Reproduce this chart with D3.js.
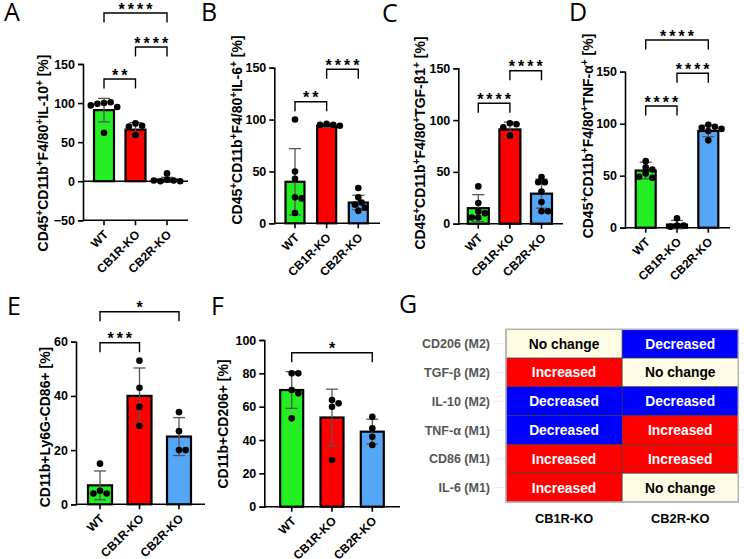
<!DOCTYPE html>
<html>
<head>
<meta charset="utf-8">
<script src="https://cdn.jsdelivr.net/npm/d3@7"></script>
<style>
body { margin: 0; background: #fff; }
svg { display: block; font-family: "Liberation Sans", Arial, sans-serif; }
</style>
</head>
<body>
<svg id="fig" width="744" height="559"></svg>
<script>
// groups and bar colours, shared by panels A-F
var cats = ['WT', 'CB1R-KO', 'CB2R-KO'];
var barColors = ['#22ee22', '#ff0000', '#55a6f6'];

// A: IL-10
var ptsA = [[100, 101, 99, 95, 97, 62], [74, 71, 70, 59], [10, 2, 1, 0, 0, 1]];
var meanA = [91, 66, 2];
var sdA = [15, 9, 3];
var sigA = [[0, 1, '**'], [1, 2, '****'], [0, 2, '****']];
var labelA = [['CD45', '+'], ['CD11b', '+'], ['F4/80', '+'], ['IL-10', '+'], [' [%]', '']];

// B: IL-6
var ptsB = [[100, 50, 43, 25, 24, 10], [96, 95, 95, 94], [34, 25, 20, 12, 15, 18]];
var meanB = [40, 94, 20];
var sdB = [32, 1.5, 7];
var sigB = [[0, 1, '**'], [1, 2, '****']];
var labelB = [['CD45', '+'], ['CD11b', '+'], ['F4/80', '+'], ['IL-6', '+'], [' [%]', '']];

// C: TGF-b1
var ptsC = [[36, 20, 12, 10, 6, 6], [97, 96, 93, 85], [45, 40, 40, 31, 21, 12, 12]];
var meanC = [15, 91, 29];
var sdC = [13, 7, 14];
var sigC = [[0, 1, '****'], [1, 2, '****']];
var labelC = [['CD45', '+'], ['CD11b', '+'], ['F4/80', '+'], ['TGF-β1', '+'], [' [%]', '']];

// D: TNF-a
var ptsD = [[64, 58, 56, 52, 48, 49], [9, 2, 2, 1], [99, 97, 96, 95, 93, 84]];
var meanD = [55, 3, 93];
var sdD = [8, 4, 5.5];
var sigD = [[0, 1, '****'], [1, 2, '****'], [0, 2, '****']];
var labelD = [['CD45', '+'], ['CD11b', '+'], ['F4/80', '+'], ['TNF-α', '+'], [' [%]', '']];

// E: CD86
var ptsE = [[15, 5, 4, 4], [53, 43, 36, 29], [34, 27, 20, 20]];
var meanE = [7, 40, 25];
var sdE = [5.3, 10.3, 7];
var sigE = [[0, 1, '***'], [0, 2, '*']];
var labelE = [['CD11b+Ly6G-CD86+  [%]', '']];

// F: CD206
var ptsF = [[80, 80, 70, 68, 53], [64, 62, 60, 28], [54, 47, 42, 37]];
var meanF = [70, 53.5, 45];
var sdF = [11, 17, 7.5];
var sigF = [[0, 2, '*']];
var labelF = [['CD11b+CD206+ [%]', '']];

// G: summary table
var rowsG = ['CD206 (M2)', 'TGF-β (M2)', 'IL-10 (M2)', 'TNF-α (M1)', 'CD86 (M1)', 'IL-6 (M1)'];
var colsG = ['CB1R-KO', 'CB2R-KO'];
var cb1rG = ['No change', 'Increased', 'Decreased', 'Decreased', 'Increased', 'Increased'];
var cb2rG = ['Decreased', 'No change', 'Decreased', 'Increased', 'Increased', 'No change'];

var panels = [
	{ key: 'A', pts: ptsA, mean: meanA, sd: sdA, sig: sigA, label: labelA, domain: [-50, 150], ticks: [-50, 0, 50, 100, 150] },
	{ key: 'B', pts: ptsB, mean: meanB, sd: sdB, sig: sigB, label: labelB, domain: [0, 150], ticks: [0, 50, 100, 150] },
	{ key: 'C', pts: ptsC, mean: meanC, sd: sdC, sig: sigC, label: labelC, domain: [0, 150], ticks: [0, 50, 100, 150] },
	{ key: 'D', pts: ptsD, mean: meanD, sd: sdD, sig: sigD, label: labelD, domain: [0, 150], ticks: [0, 50, 100, 150] },
	{ key: 'E', pts: ptsE, mean: meanE, sd: sdE, sig: sigE, label: labelE, domain: [0, 60], ticks: [0, 20, 40, 60] },
	{ key: 'F', pts: ptsF, mean: meanF, sd: sdF, sig: sigF, label: labelF, domain: [0, 100], ticks: [0, 20, 40, 60, 80, 100] }
];

// pixel layout of each panel (axis x, y range, category range, label spots, bracket heights)
var layout = {
	A: { ax: 83, yr: [220.3, 64], xr: [104, 167], bw: 20, xEnd: 188, lx: 48, ly: 153, lt: [4, 21], br: [79, 47, 13] },
	B: { ax: 274.3, yr: [223.3, 67.7], xr: [295, 358.3], bw: 19, xEnd: 380, lx: 242, ly: 130, lt: [201, 21], br: [101.7, 69.3] },
	C: { ax: 458.3, yr: [223.7, 68.3], xr: [478.3, 541.5], bw: 21, xEnd: 563, lx: 425, ly: 143, lt: [382, 22], br: [103.3, 70.7] },
	D: { ax: 625, yr: [227.7, 71.7], xr: [645.7, 708.3], bw: 20, xEnd: 730, lx: 593, ly: 136, lt: [569, 21], br: [106, 73.3, 40] },
	E: { ax: 76, yr: [504.3, 341.7], xr: [100, 179], bw: 24, xEnd: 205, lx: 50, ly: 427, lt: [7, 315], br: [342.7, 311.7] },
	F: { ax: 264.3, yr: [506.7, 340], xr: [291.7, 372.3], bw: 23, xEnd: 400, lx: 228, ly: 424, lt: [211, 315], br: [352.7] }
};

var svg = d3.select('#fig');

function letter(t, pos) {
	svg.append('text')
		.attr('x', pos[0]).attr('y', pos[1])
		.style('font-family', '"Open Sans", sans-serif')
		.style('font-size', '25px')
		.text(t);
}

// spread dots sideways so they don't sit on top of each other
function swarm(vals, y, r) {
	var placed = [];
	return vals.map(function(v) {
		var py = y(v), k = 0, off = 0;
		while (placed.some(function(p) { return Math.hypot(p.x - off, p.y - py) < r * 1.8; })) {
			k++;
			off = (k % 2 ? 1 : -1) * Math.ceil(k / 2) * r;
		}
		placed.push({ x: off, y: py });
		return { v: v, off: off };
	});
}

function drawPanel(p) {
	var L = layout[p.key];
	var g = svg.append('g');
	var y = d3.scaleLinear().domain(p.domain).range(L.yr);
	var x = d3.scalePoint().domain(cats).range(L.xr);
	var base = y(p.domain[0]);

	letter(p.key, L.lt);

	// y axis
	var ya = g.append('g')
		.attr('transform', 'translate(' + L.ax + ',0)')
		.call(d3.axisLeft(y).tickValues(p.ticks).tickSize(5).tickPadding(3));
	ya.selectAll('path, line').attr('stroke', '#000').attr('stroke-width', 1.6);
	ya.selectAll('text').style('font-size', '12.5px').style('font-weight', 'bold').attr('fill', '#000');

	// x axis line(s)
	g.append('line').attr('x1', L.ax).attr('x2', L.xEnd).attr('y1', base).attr('y2', base)
		.attr('stroke', '#000').attr('stroke-width', 1.6);
	if (p.domain[0] < 0) {
		g.append('line').attr('x1', L.ax).attr('x2', L.xEnd).attr('y1', y(0)).attr('y2', y(0))
			.attr('stroke', '#000').attr('stroke-width', 1.6);
	}
	g.selectAll('.ctick').data(cats).enter().append('line')
		.attr('x1', function(d) { return x(d); }).attr('x2', function(d) { return x(d); })
		.attr('y1', base).attr('y2', base + 5)
		.attr('stroke', '#000').attr('stroke-width', 1.6);
	g.selectAll('.clab').data(cats).enter().append('text')
		.attr('transform', function(d) { return 'translate(' + (x(d) + 5) + ',' + (base + 15) + ') rotate(-45)'; })
		.attr('text-anchor', 'end')
		.style('font-size', '12px').style('font-weight', 'bold')
		.text(function(d) { return d; });

	// bars
	g.selectAll('.bar').data(p.mean).enter().append('rect')
		.attr('x', function(d, i) { return x(cats[i]) - L.bw / 2; })
		.attr('width', L.bw)
		.attr('y', function(d) { return Math.min(y(d), y(0)); })
		.attr('height', function(d) { return Math.abs(y(0) - y(d)); })
		.attr('fill', function(d, i) { return barColors[i]; })
		.attr('stroke', '#000').attr('stroke-width', 2.2);

	// error bars (mean +/- SD)
	p.mean.forEach(function(m, i) {
		var cx = x(cats[i]);
		var top = y(m + p.sd[i]), bot = y(m - p.sd[i]);
		var e = g.append('g').attr('stroke', '#555').attr('stroke-width', 1.3);
		e.append('line').attr('x1', cx).attr('x2', cx).attr('y1', top).attr('y2', bot);
		e.append('line').attr('x1', cx - 6).attr('x2', cx + 6).attr('y1', top).attr('y2', top);
		e.append('line').attr('x1', cx - 6).attr('x2', cx + 6).attr('y1', bot).attr('y2', bot);
	});

	// individual animals
	p.pts.forEach(function(vals, i) {
		var cx = x(cats[i]);
		g.selectAll(null).data(swarm(vals, y, 3.3)).enter().append('circle')
			.attr('cx', function(d) { return cx + d.off; })
			.attr('cy', function(d) { return y(d.v); })
			.attr('r', 3.3)
			.attr('fill', '#000');
	});

	// significance brackets
	p.sig.forEach(function(s, k) {
		var x1 = x(cats[s[0]]), x2 = x(cats[s[1]]), by = L.br[k];
		g.append('path')
			.attr('d', 'M' + x1 + ',' + (by + 9.5) + 'V' + by + 'H' + x2 + 'V' + (by + 9.5))
			.attr('fill', 'none').attr('stroke', '#000').attr('stroke-width', 1.4);
		g.append('text')
			.attr('x', (x1 + x2) / 2 + 1.5).attr('y', by + 1.5)
			.attr('text-anchor', 'middle')
			.style('font-size', '16px').style('font-weight', 'bold').style('letter-spacing', '3px')
			.text(s[2]);
	});

	// y label with superscripts
	var t = g.append('text')
		.attr('transform', 'translate(' + L.lx + ',' + L.ly + ') rotate(-90)')
		.attr('text-anchor', 'middle')
		.style('font-size', '14px').style('font-weight', 'bold');
	var shift = 0;
	p.label.forEach(function(seg) {
		t.append('tspan').attr('dy', shift).text(seg[0]);
		shift = 0;
		if (seg[1]) {
			t.append('tspan').attr('dy', -5.5).style('font-size', '10px').text(seg[1]);
			shift = 5.5;
		}
	});
}

panels.forEach(drawPanel);

// ---- panel G: summary table ----
letter('G', [399, 313]);
var cellFill = { 'Increased': '#ff0000', 'Decreased': '#0000ff', 'No change': '#fffde3' };
var cellInk = { 'Increased': '#fff', 'Decreased': '#fff', 'No change': '#000' };
var ry = d3.scaleBand().domain(rowsG).range([329.3, 502]);
var cx = d3.scaleBand().domain(colsG).range([506, 738.3]);
var gt = svg.append('g');

// faint row guides
gt.selectAll('.guide').data(rowsG).enter().append('line')
	.attr('x1', 494).attr('x2', 744)
	.attr('y1', function(d) { return ry(d) + ry.bandwidth() / 2; })
	.attr('y2', function(d) { return ry(d) + ry.bandwidth() / 2; })
	.attr('stroke', '#ececec').attr('stroke-width', 1);

var cells = [];
rowsG.forEach(function(r, i) {
	cells.push({ row: r, col: colsG[0], v: cb1rG[i] });
	cells.push({ row: r, col: colsG[1], v: cb2rG[i] });
});
gt.selectAll('.cell').data(cells).enter().append('rect')
	.attr('x', function(d) { return cx(d.col); })
	.attr('y', function(d) { return ry(d.row); })
	.attr('width', cx.bandwidth()).attr('height', ry.bandwidth())
	.attr('fill', function(d) { return cellFill[d.v]; })
	.attr('stroke', '#3a3a3a').attr('stroke-width', 0.6);
gt.selectAll('.ctext').data(cells).enter().append('text')
	.attr('x', function(d) { return cx(d.col) + cx.bandwidth() / 2; })
	.attr('y', function(d) { return ry(d.row) + ry.bandwidth() / 2; })
	.attr('dy', '0.36em')
	.attr('text-anchor', 'middle')
	.attr('fill', function(d) { return cellInk[d.v]; })
	.style('font-size', '13.8px').style('font-weight', 'bold')
	.text(function(d) { return d.v; });
gt.append('rect')
	.attr('x', 506).attr('y', 329.3).attr('width', 738.3 - 506).attr('height', 502 - 329.3)
	.attr('fill', 'none').attr('stroke', '#b5b5b5').attr('stroke-width', 1.5);

gt.selectAll('.rlab').data(rowsG).enter().append('text')
	.attr('x', 490)
	.attr('y', function(d) { return ry(d) + ry.bandwidth() / 2; })
	.attr('dy', '0.36em')
	.attr('text-anchor', 'end')
	.attr('fill', '#555')
	.style('font-size', '12.5px').style('font-weight', 'bold')
	.text(function(d) { return d; });
gt.selectAll('.clabG').data(colsG).enter().append('text')
	.attr('x', function(d) { return cx(d) + cx.bandwidth() / 2; })
	.attr('y', 523)
	.attr('text-anchor', 'middle')
	.style('font-size', '12.8px').style('font-weight', 'bold')
	.text(function(d) { return d; });
</script>
</body>
</html>
